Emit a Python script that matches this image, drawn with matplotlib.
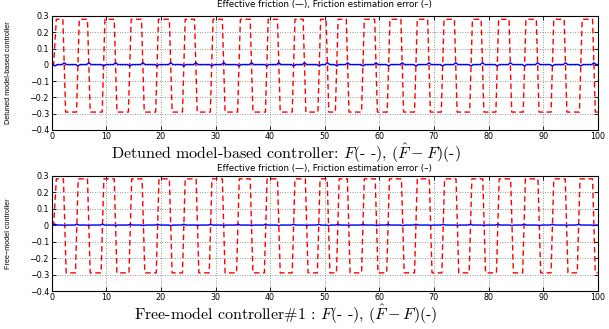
import matplotlib
matplotlib.use('Agg')
import matplotlib.pyplot as plt

plt.rcParams['mathtext.fontset'] = 'cm'
plt.rcParams['font.family'] = ['DejaVu Sans']

# Tiempos (s) de subida / bajada de la friccion
sup_subidas = [0.6, 4.8, 9.5, 14.3, 19.3, 24.2, 29.3, 34.3, 39.4, 44.3, 49.0,
               52.2, 57.0, 61.7, 66.7, 71.6, 76.8, 81.6, 86.6, 91.7, 96.9]
sup_bajadas = [2.3, 6.8, 11.7, 16.7, 21.8, 26.4, 31.5, 36.6, 41.6, 46.3, 50.5,
               54.2, 59.4, 64.2, 69.1, 74.0, 78.9, 84.0, 89.0, 94.1, 99.3]
inf_subidas = [0.6, 4.6, 9.3, 14.4, 19.4, 24.2, 29.1, 34.1, 39.2, 44.3, 48.9,
               52.4, 57.0, 61.6, 66.7, 71.7, 76.7, 81.7, 86.5, 91.7, 96.5]
inf_bajadas = [2.4, 6.8, 11.7, 16.8, 21.8, 26.7, 31.5, 36.6, 41.6, 46.7, 50.7,
               54.4, 59.5, 64.3, 69.4, 74.3, 79.2, 84.3, 89.3, 94.3, 99.3]

nivel_alto = 0.28
nivel_bajo = -0.29

# error de estimacion: valor en cada subida / bajada
sup_err_subida = -0.007
sup_err_bajada = 0.013
sup_err_base = 0.002
inf_err_subida = 0.005
inf_err_bajada = -0.004
inf_err_base = 0.0

titulo = 'Effective friction (\u2014), Friction estimation error (\u2013)'
ylabels = ['Detuned model-based controller', 'Free\u2212model controller']
xlabels = [r'Detuned model-based controller: $F$(- -), $(\hat{F}-F)$(-)',
           r'Free-model controller#1 : $F$(- -), $(\hat{F}-F)$(-)']
xticks = [0, 10, 20, 30, 40, 50, 60, 70, 80, 90, 100]
yticks = [-0.4, -0.3, -0.2, -0.1, 0, 0.1, 0.2, 0.3]
yticklabels = ['\u22120.4', '\u22120.3', '\u22120.2', '\u22120.1', '0', '0.1', '0.2', '0.3']


def friccion(subidas, bajadas):
    eventos = sorted([(t, nivel_alto) for t in subidas] + [(t, nivel_bajo) for t in bajadas])
    t = [0.0]
    f = [0.0]
    previo = 0.0
    for e, nuevo in eventos:
        t += [e - 0.25, e + 0.25]
        f += [previo, nuevo]
        previo = nuevo
    t.append(100.0)
    f.append(previo)
    return t, f


def error(subidas, bajadas, v_sub, v_baj, base):
    eventos = sorted([(t, v_sub) for t in subidas] + [(t, v_baj) for t in bajadas])
    t = [0.0]
    e = [0.0]
    for x, v in eventos:
        t += [x - 0.4, x, x + 0.4]
        e += [base, v, base]
    t.append(100.0)
    e.append(base)
    return t, e


fig = plt.figure(figsize=(6.09, 3.29), dpi=100)

paneles = [
    ([0.0849, 0.6049, 0.8966, 0.3465], sup_subidas, sup_bajadas,
     sup_err_subida, sup_err_bajada, sup_err_base, 0.985, 0.5173),
    ([0.0849, 0.1155, 0.8966, 0.3510], inf_subidas, inf_bajadas,
     inf_err_subida, inf_err_bajada, inf_err_base, 0.4869, 0.0274),
]

for i, (pos, sub, baj, es, eb, base, y_tit, y_xl) in enumerate(paneles):
    ax = fig.add_axes(pos)
    tf, ff = friccion(sub, baj)
    te, ee = error(sub, baj, es, eb, base)
    ax.plot(tf, ff, color='r', linestyle='--', dashes=(4, 2.5), linewidth=1.0)
    ax.plot(te, ee, color='b', linewidth=1.0)

    ax.set_xlim(0, 100)
    ax.set_ylim(-0.4, 0.3)
    ax.set_xticks(xticks)
    ax.set_yticks(yticks)
    ax.set_yticklabels(yticklabels)
    ax.tick_params(direction='in', top=True, right=True, length=3, width=0.6,
                   labelsize=5.8, pad=1.2)
    ax.tick_params(axis='y', pad=2)
    ax.grid(True, linestyle=(0, (1, 2)), color='0.45', linewidth=0.6)
    for s in ax.spines.values():
        s.set_linewidth(0.8)
    ax.set_ylabel(ylabels[i], fontsize=5.2, family='Liberation Sans')
    ax.yaxis.set_label_coords(-0.072, 0.5)

    fig.text(0.533, y_tit, titulo, fontsize=6.3, ha='center', va='center')
    fig.text(0.470, y_xl, xlabels[i], fontsize=11.5, family='cmr10',
             ha='center', va='baseline')

fig.savefig('out.png', dpi=100)
